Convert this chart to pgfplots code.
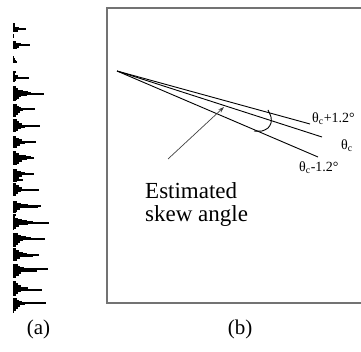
\documentclass[border=0pt]{standalone}
\usepackage{fontspec}
\setmainfont{Liberation Serif}
\usepackage{pgfplots}
\pgfplotsset{compat=1.18}
\usetikzlibrary{arrows.meta}
\begin{document}
\begin{tikzpicture}
\begin{axis}[at={(0pt,0pt)}, anchor=south west, scale only axis,
  width=361pt, height=352pt, xmin=0, xmax=361, ymin=0, ymax=352,
  y dir=reverse, axis line style={draw=none}, ticks=none, clip=false]
% frame of panel (b)
\addplot[color=black!55, line width=1.8pt, line join=miter] coordinates {(365,8) (107,8) (107,303) (365,303)};
% the three lines
\addplot[black, line width=0.9pt] coordinates {(117,71) (310,124)};
\addplot[black, line width=0.9pt] coordinates {(117,71) (322,137)};
\addplot[black, line width=0.9pt] coordinates {(117,71) (318,157)};
% arc
\addplot[black, line width=0.9pt, smooth] coordinates {(268,110) (271,117) (271,123) (268,128) (262,131) (254,131)};
% arrow
\addplot[black!75, line width=0.7pt, -{Stealth[length=6pt,width=4pt]}] coordinates {(168,159) (224,107)};
\node[anchor=west, font=\fontsize{14}{15}\selectfont, inner sep=0pt] at (axis cs:312,119) {θ\textsubscript{c}+1.2°};
\node[anchor=west, font=\fontsize{14}{15}\selectfont, inner sep=0pt] at (axis cs:341,146) {θ\textsubscript{c}};
\node[anchor=west, font=\fontsize{14}{15}\selectfont, inner sep=0pt] at (axis cs:299,168) {θ\textsubscript{c}-1.2°};
\node[anchor=base west, font=\fontsize{23}{24}\selectfont, inner sep=0pt] at (axis cs:145,199) {Estimated};
\node[anchor=base west, font=\fontsize{23}{24}\selectfont, inner sep=0pt] at (axis cs:145,221.5) {skew angle};
\node[anchor=base, font=\fontsize{21}{22}\selectfont, inner sep=0pt] at (axis cs:38.5,334) {(a)};
\node[anchor=base, font=\fontsize{21}{22}\selectfont, inner sep=0pt] at (axis cs:240,334) {(b)};
\end{axis}
\begin{axis}[at={(13pt,0pt)}, anchor=south west, scale only axis,
  width=60pt, height=352pt, xmin=0, xmax=60, ymin=0, ymax=352,
  y dir=reverse, hide axis, clip=false]
\addplot[xcomb, black, line width=1.05pt] table {
len y
2 24
2 26
6 28
13 29
5 31
1 35
1 37
3 42
8 44
17 45
6 47
4 48
1 57
2 59
3 61
4 62
3 72
2 74
5 76
16 78
3 80
2 81
3 87
5 89
10 91
15 92
18 93
31 94
14 95
8 96
6 98
4 99
3 100
4 105
6 107
8 108
22 109
10 110
7 112
5 114
3 116
4 120
6 122
9 124
27 126
12 127
8 128
5 130
3 131
3 137
6 139
9 140
23 142
12 143
7 145
4 147
3 152
6 154
13 156
18 157
21 158
14 159
9 161
6 163
4 164
4 170
8 172
12 173
21 174
9 176
6 178
10 180
4 181
3 184
6 186
9 188
26 190
8 191
5 193
3 195
4 202
8 204
15 205
28 206
25 207
7 209
4 211
3 212
3 215
2 217
5 219
9 220
14 221
20 222
36 223
15 224
6 226
3 228
1 229
5 234
8 236
13 237
18 238
32 239
10 240
7 242
5 244
3 246
3 249
6 251
10 253
14 254
26 255
20 256
7 258
4 260
5 265
7 267
11 268
35 269
18 270
24 271
8 273
6 275
3 277
3 282
5 284
8 286
15 288
29 290
8 291
5 293
3 295
4 299
6 301
9 302
33 303
12 304
7 306
5 308
3 310
1 312
};
\end{axis}
\pgfresetboundingbox
\useasboundingbox (0pt,0pt) rectangle (361pt,352pt);
\end{tikzpicture}
\end{document}
